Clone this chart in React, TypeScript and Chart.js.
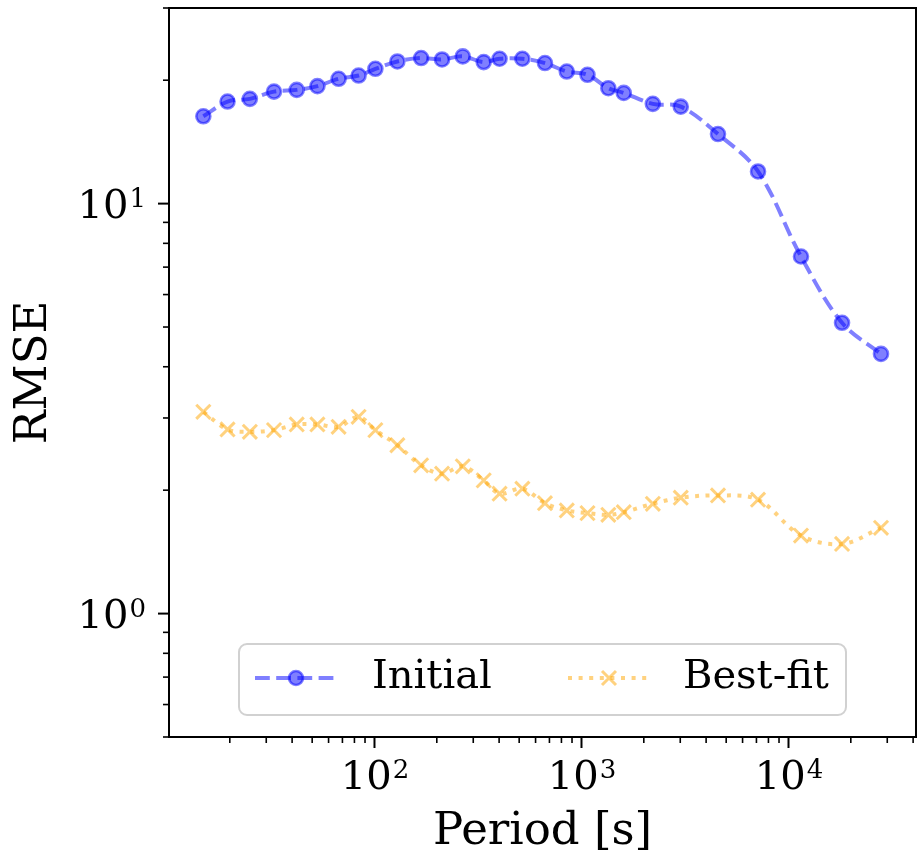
import React, { useEffect, useRef } from 'react';
import { Chart, registerables } from 'chart.js';

Chart.register(...registerables);

// ---- data ----
const periods = [14.9, 19.5, 25.0, 32.7, 42.1, 53.0, 67.1, 83.8, 101, 129, 168, 212, 267, 337, 402, 518, 666, 849, 1069, 1348, 1600, 2211, 3017, 4564, 7124, 11490, 18140, 27980];
const initialRmse = [16.33, 17.74, 18.01, 18.76, 18.94, 19.34, 20.16, 20.53, 21.32, 22.22, 22.65, 22.47, 22.86, 22.14, 22.56, 22.56, 22.02, 21.0, 20.62, 19.12, 18.62, 17.51, 17.24, 14.78, 11.98, 7.43, 5.12, 4.3];
const bestFitRmse = [3.106, 2.813, 2.775, 2.802, 2.893, 2.893, 2.854, 3.02, 2.802, 2.574, 2.3, 2.194, 2.287, 2.113, 1.961, 2.017, 1.859, 1.785, 1.758, 1.741, 1.767, 1.853, 1.917, 1.942, 1.896, 1.55, 1.479, 1.619];
const seriesLabels = ['Initial', 'Best-fit'];
const xTitle = 'Period [s]';
const yTitle = 'RMSE';
const xLimits = [10.17, 41300];
const yLimits = [0.5, 30];

const BLUE = 'rgba(0,0,255,0.5)';
const ORANGE = 'rgba(255,165,0,0.5)';
const FONT = "'DejaVu Serif', serif";
const TICK_SIZE = 40;
const SUP_SIZE = 26;

function powerExp(v: number): number | null {
  const e = Math.log10(v);
  const r = Math.round(e);
  if (Math.abs(e - r) > 1e-6) return null;
  return r;
}

const framePlugin = {
  id: 'frame',
  afterDraw(chart: any) {
    const { ctx, chartArea: a, scales } = chart;
    ctx.save();
    ctx.strokeStyle = '#000';
    const drawTicks = (scale: any, horizontal: boolean) => {
      for (const t of scale.ticks) {
        const v = t.value;
        const e = Math.floor(Math.log10(v) + 1e-9);
        const s = v / Math.pow(10, e);
        if (Math.abs(s - Math.round(s)) > 1e-6) continue;
        const major = Math.round(s) === 1 || Math.round(s) === 10;
        const p = scale.getPixelForValue(v);
        const len = major ? 11 : 6;
        if (horizontal) {
          if (p < a.left - 0.5 || p > a.right + 0.5) continue;
        } else {
          if (p < a.top - 0.5 || p > a.bottom + 0.5) continue;
        }
        ctx.lineWidth = major ? 2 : 1.6;
        ctx.strokeStyle = '#000';
        ctx.beginPath();
        if (horizontal) {
          ctx.moveTo(p, a.bottom);
          ctx.lineTo(p, a.bottom + len);
        } else {
          ctx.moveTo(a.left, p);
          ctx.lineTo(a.left - len, p);
        }
        ctx.stroke();

        // power-of-ten labels with a raised exponent
        const ex = powerExp(v);
        if (ex === null) continue;
        ctx.fillStyle = '#000';
        ctx.textBaseline = 'alphabetic';
        ctx.textAlign = 'left';
        ctx.font = `${TICK_SIZE}px ${FONT}`;
        const base = '10';
        const w1 = ctx.measureText(base).width;
        ctx.font = `${SUP_SIZE}px ${FONT}`;
        const sup = String(ex);
        const w2 = ctx.measureText(sup).width;
        const digitH = TICK_SIZE * 0.729;
        const supH = SUP_SIZE * 0.729;
        let x0: number;
        let topY: number;
        if (horizontal) {
          x0 = p - (w1 + w2) / 2;
          topY = a.bottom + 23;
        } else {
          x0 = a.left - 24 - (w1 + w2);
          topY = p - digitH / 2;
        }
        ctx.font = `${TICK_SIZE}px ${FONT}`;
        ctx.fillText(base, x0, topY + digitH);
        ctx.font = `${SUP_SIZE}px ${FONT}`;
        ctx.fillText(sup, x0 + w1 + 1, topY - 1 + supH);
      }
    };
    drawTicks(scales.x, true);
    drawTicks(scales.y, false);
    // spines
    ctx.lineWidth = 2;
    ctx.strokeStyle = '#000';
    ctx.strokeRect(a.left, a.top, a.right - a.left, a.bottom - a.top);

    // legend
    const bx = a.left + 70;
    const by = a.bottom - 93;
    const bw = 607;
    const bh = 71;
    ctx.beginPath();
    ctx.roundRect(bx, by, bw, bh, 8);
    ctx.fillStyle = 'rgba(255,255,255,0.8)';
    ctx.fill();
    ctx.lineWidth = 2;
    ctx.strokeStyle = 'rgba(204,204,204,0.9)';
    ctx.stroke();

    const cy = by + 34;
    // Initial handle
    ctx.lineWidth = 4;
    ctx.lineCap = 'butt';
    ctx.strokeStyle = BLUE;
    ctx.setLineDash([14.8, 6.4]);
    ctx.beginPath();
    ctx.moveTo(bx + 16, cy);
    ctx.lineTo(bx + 98, cy);
    ctx.stroke();
    ctx.setLineDash([]);
    ctx.beginPath();
    ctx.arc(bx + 57, cy, 7, 0, Math.PI * 2);
    ctx.fillStyle = BLUE;
    ctx.fill();
    ctx.lineWidth = 2.6;
    ctx.strokeStyle = BLUE;
    ctx.stroke();
    // Best-fit handle
    const ox = bx + 329;
    ctx.lineWidth = 4;
    ctx.strokeStyle = ORANGE;
    ctx.setLineDash([4, 6.6]);
    ctx.beginPath();
    ctx.moveTo(ox, cy);
    ctx.lineTo(ox + 82, cy);
    ctx.stroke();
    ctx.setLineDash([]);
    ctx.lineWidth = 3;
    const r = 7;
    ctx.beginPath();
    ctx.moveTo(ox + 41 - r, cy - r);
    ctx.lineTo(ox + 41 + r, cy + r);
    ctx.moveTo(ox + 41 - r, cy + r);
    ctx.lineTo(ox + 41 + r, cy - r);
    ctx.stroke();

    ctx.fillStyle = '#000';
    ctx.font = `40px ${FONT}`;
    ctx.textBaseline = 'middle';
    ctx.textAlign = 'left';
    ctx.fillText(seriesLabels[0], bx + 133, cy);
    ctx.fillText(seriesLabels[1], bx + 444, cy);
    ctx.restore();
  },
};

const zeroPad = (s: any) => {
  s.paddingTop = 0;
  s.paddingBottom = 0;
  s.paddingLeft = 0;
  s.paddingRight = 0;
};

export default function App() {
  const ref = useRef<HTMLCanvasElement | null>(null);
  useEffect(() => {
    if (!ref.current) return;
    const chart = new Chart(ref.current, {
      type: 'line',
      data: {
        datasets: [
          {
            label: seriesLabels[0],
            data: periods.map((p, i) => ({ x: p, y: initialRmse[i] })),
            borderColor: BLUE,
            backgroundColor: BLUE,
            borderWidth: 4,
            borderDash: [14.8, 6.4],
            tension: 0.35,
            pointStyle: 'circle',
            pointRadius: 7,
            pointBorderWidth: 2.6,
            pointBackgroundColor: BLUE,
            pointBorderColor: BLUE,
            fill: false,
          },
          {
            label: seriesLabels[1],
            data: periods.map((p, i) => ({ x: p, y: bestFitRmse[i] })),
            borderColor: ORANGE,
            backgroundColor: ORANGE,
            borderWidth: 4,
            borderDash: [4, 6.6],
            tension: 0.35,
            pointStyle: 'crossRot',
            pointRadius: 10,
            pointBorderWidth: 3,
            pointBackgroundColor: ORANGE,
            pointBorderColor: ORANGE,
            fill: false,
          },
        ],
      },
      options: {
        responsive: false,
        animation: false,
        devicePixelRatio: 1,
        layout: { autoPadding: false, padding: { top: 8, right: 1, left: 0, bottom: 0 } },
        plugins: { legend: { display: false }, tooltip: { enabled: false } },
        scales: {
          x: {
            type: 'logarithmic',
            min: xLimits[0],
            max: xLimits[1],
            grid: { display: false, drawTicks: false },
            border: { display: false },
            ticks: {
              autoSkip: false,
              maxRotation: 0,
              padding: 14,
              color: '#000',
              font: { family: FONT, size: TICK_SIZE },
              callback: () => '',
            },
            title: {
              display: true,
              text: xTitle,
              color: '#000',
              font: { family: FONT, size: 45 },
              padding: { top: 0, bottom: 0 },
            },
            afterFit: (s: any) => {
              s.height = 122;
              zeroPad(s);
            },
          },
          y: {
            type: 'logarithmic',
            min: yLimits[0],
            max: yLimits[1],
            grid: { display: false, drawTicks: false },
            border: { display: false },
            ticks: {
              autoSkip: false,
              padding: 22,
              color: '#000',
              font: { family: FONT, size: TICK_SIZE },
              callback: () => '',
            },
            title: {
              display: true,
              text: yTitle,
              color: '#000',
              font: { family: FONT, size: 45 },
              padding: { top: 7, bottom: 0 },
            },
            afterFit: (s: any) => {
              s.width = 169;
              zeroPad(s);
            },
          },
        },
      },
      plugins: [framePlugin],
    } as any);
    return () => chart.destroy();
  }, []);
  return (
    <div style={{ position: 'fixed', left: 0, top: 0, width: 917, height: 859, background: '#fff' }}>
      <canvas ref={ref} width={917} height={859} style={{ display: 'block' }} />
    </div>
  );
}
